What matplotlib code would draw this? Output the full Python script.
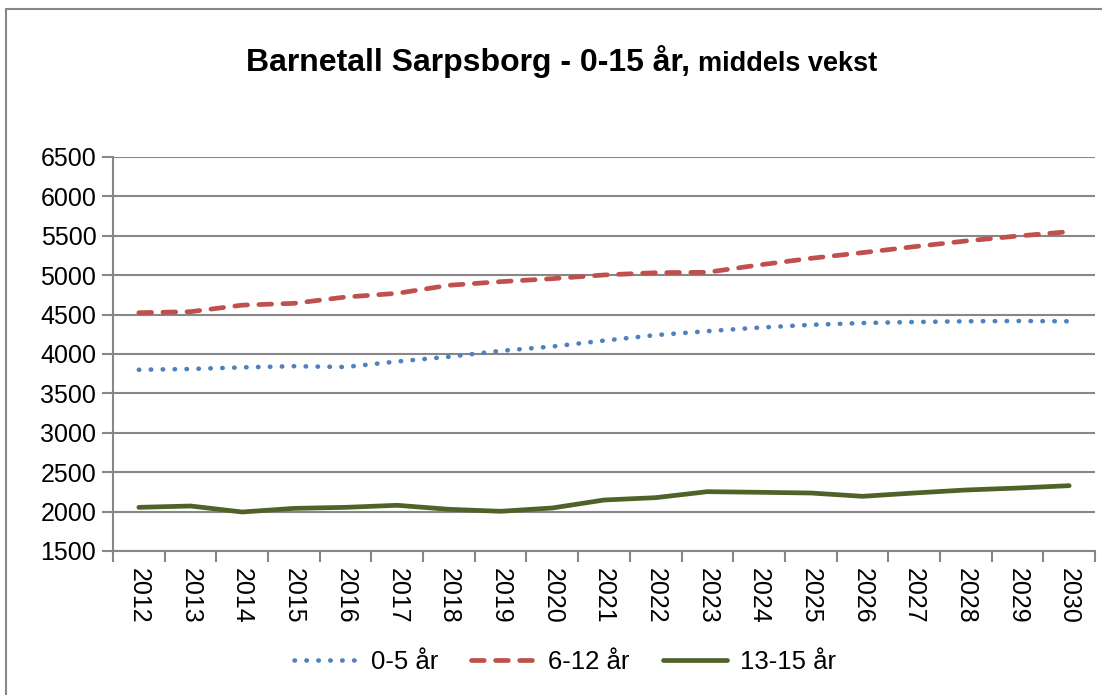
import numpy as np
import matplotlib.pyplot as plt
from matplotlib.patches import Rectangle
from matplotlib.ticker import FixedLocator

plt.rcParams['font.family'] = ['Liberation Sans', 'DejaVu Sans']

# Data
years = [str(y) for y in range(2012, 2031)]
barn_0_5 = [3800, 3810, 3830, 3845, 3835, 3905, 3965, 4040, 4095, 4170,
            4240, 4290, 4335, 4370, 4393, 4406, 4415, 4419, 4415]
barn_6_12 = [4524, 4537, 4620, 4643, 4723, 4770, 4872, 4918, 4956, 5003,
             5032, 5037, 5130, 5214, 5286, 5362, 5434, 5497, 5552]
barn_13_15 = [2054, 2071, 1995, 2041, 2054, 2080, 2029, 2004, 2046, 2147,
              2177, 2253, 2245, 2236, 2194, 2236, 2274, 2299, 2329]
y_ticks = list(range(1500, 7000, 500))

fig = plt.figure(figsize=(11.02, 6.95), dpi=100)
ax = fig.add_axes([113 / 1102, 1 - 551 / 695, (1095 - 113) / 1102, (551 - 157) / 695])

x = np.arange(len(years))
ax.plot(x, barn_0_5, color='#4F81BD', lw=3.3, linestyle=(0, (0.1, 2.5)),
        dash_capstyle='round', label='0-5 år')
ax.plot(x, barn_6_12, color='#C0504D', lw=3.4, linestyle=(0, (2.7, 2.4)),
        dash_capstyle='round', label='6-12 år')
ax.plot(x, barn_13_15, color='#4F6228', lw=3.4, solid_capstyle='round',
        label='13-15 år')

grey = '#878787'
ax.set_ylim(1500, 6500)
ax.set_xlim(-0.5, len(years) - 0.5)
ax.set_yticks(y_ticks)
ax.yaxis.grid(True, color=grey, lw=1.5)
ax.set_axisbelow(True)

ax.set_xticks(x)
ax.set_xticklabels(years, rotation=270, fontsize=18)
ax.xaxis.set_minor_locator(FixedLocator(np.arange(-0.5, len(years), 1)))
ax.tick_params(axis='x', which='major', length=0, pad=12)
ax.tick_params(axis='x', which='minor', length=8, width=1.5, color=grey, direction='out')
ax.tick_params(axis='y', length=8, width=1.5, color=grey, labelsize=18, pad=4)

for side in ['top', 'right']:
    ax.spines[side].set_visible(False)
for side in ['left', 'bottom']:
    ax.spines[side].set_color(grey)
    ax.spines[side].set_linewidth(1.5)

fig.text(690 / 1102, 1 - 71 / 695, 'Barnetall Sarpsborg - 0-15 år,', fontsize=23, fontweight='bold',
         ha='right', va='baseline')
fig.text(698 / 1102, 1 - 71 / 695, 'middels vekst', fontsize=19.5, fontweight='bold',
         ha='left', va='baseline')

leg = fig.legend(loc='center', bbox_to_anchor=(565 / 1102, 1 - 662 / 695), ncol=3, frameon=False,
                 fontsize=18.5, handlelength=2.5, handletextpad=0.5, columnspacing=1.3)

# chart border (Excel chart area)
fig.patches.append(Rectangle((5.5 / 1102, -0.1), 1.2, 1 - 8.5 / 695 + 0.1, transform=fig.transFigure,
                             fill=False, edgecolor=grey, lw=1.5))

fig.savefig('out.png', dpi=100)
